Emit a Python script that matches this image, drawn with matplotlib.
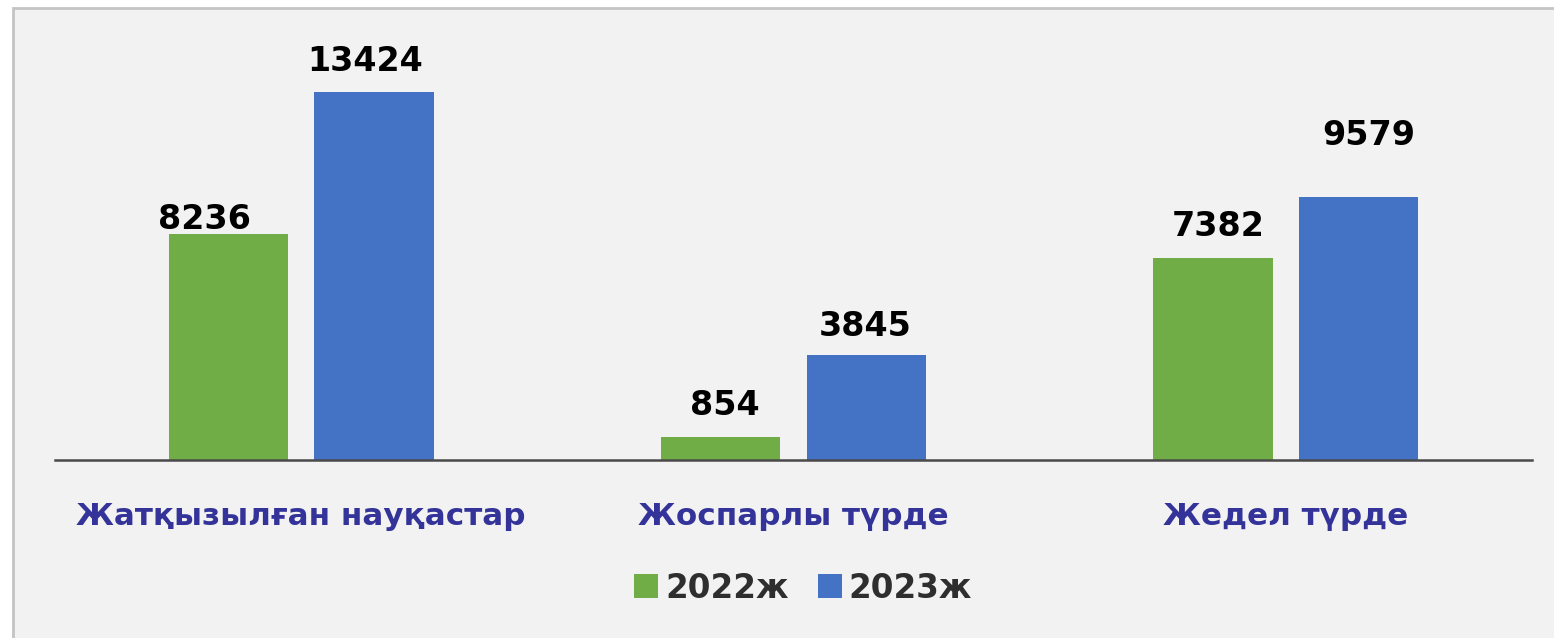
import numpy as np
import matplotlib.pyplot as plt
from matplotlib.patches import Patch, Rectangle

categories = ['Жатқызылған науқастар', 'Жоспарлы түрде', 'Жедел түрде']
years = ['2022ж', '2023ж']
values_2022 = [8236, 854, 7382]
values_2023 = [13424, 3845, 9579]

green = '#70AD47'
blue = '#4472C4'

# label shifts (pixels) as placed in the original
shift_2022 = [(-24, -2), (4, 15), (5, 15)]
shift_2023 = [(-9, 14), (-1, 12), (10, 45)]

fig = plt.figure(figsize=(15.54, 6.38), dpi=100, facecolor='white')
fig.patches.append(Rectangle((13 / 1554, -0.05), 1.1, 1 - 8 / 638 + 0.05,
                             transform=fig.transFigure, facecolor='#F2F2F2',
                             edgecolor='#C4C4C4', linewidth=2, zorder=-10))

ax = fig.add_axes([55 / 1554, 178 / 638, 1477 / 1554, 440 / 638])
ax.set_facecolor('none')

x = np.arange(len(categories))
w = 0.242
off = 0.148
b1 = ax.bar(x - off, values_2022, w, color=green, label=years[0])
b2 = ax.bar(x + off, values_2023, w, color=blue, label=years[1])

for bars, vals, shifts in [(b1, values_2022, shift_2022), (b2, values_2023, shift_2023)]:
    for bar, v, (dx, dy) in zip(bars, vals, shifts):
        ax.annotate(str(v), (bar.get_x() + bar.get_width() / 2, bar.get_height()),
                    xytext=(dx, dy), textcoords='offset pixels',
                    ha='center', va='bottom', fontsize=24, fontweight='bold',
                    color='black')

ax.set_xlim(-0.5, 2.5)
ax.set_ylim(0, 16050)
ax.set_yticks([])
ax.set_xticks(x)
ax.set_xticklabels(categories, fontsize=22.3, fontweight='bold', color='#333399')
ax.tick_params(axis='x', length=0, pad=30)
for s in ['top', 'left', 'right']:
    ax.spines[s].set_visible(False)
ax.spines['bottom'].set_color('#4a4a4a')
ax.spines['bottom'].set_linewidth(1.8)

handles = [Patch(facecolor=green), Patch(facecolor=blue)]
leg = fig.legend(handles, years, loc='center', bbox_to_anchor=(803 / 1554, 1 - 588 / 638),
                 ncol=2, frameon=False, handlelength=0.75, handleheight=0.75,
                 handletextpad=0.2, columnspacing=0.9,
                 prop={'size': 23.5, 'weight': 'bold'})
for t in leg.get_texts():
    t.set_color('#2e2e2e')

fig.savefig('out.png', dpi=100, facecolor='white')
